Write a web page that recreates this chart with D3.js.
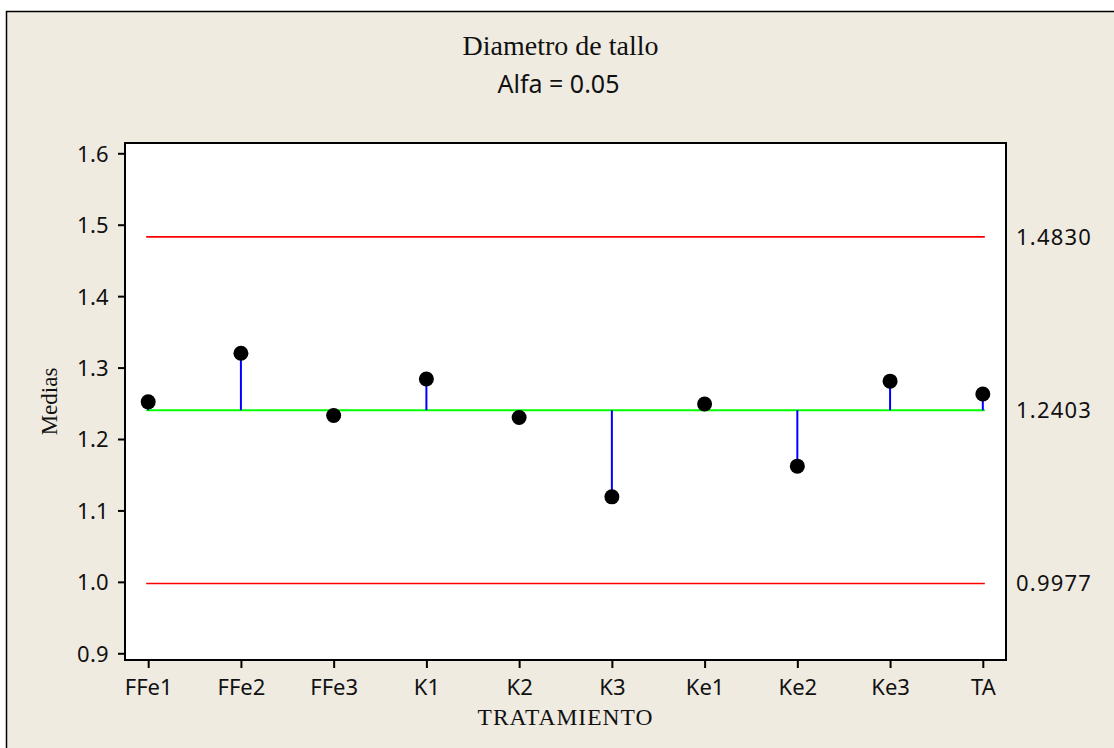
<!DOCTYPE html>
<html>
<head>
<meta charset="utf-8">
<script src="https://cdn.jsdelivr.net/npm/d3@7"></script>
<style>
  html, body { margin: 0; padding: 0; background: #ffffff; }
  svg { display: block; }
  .sans { font-family: "Noto Sans", "DejaVu Sans", sans-serif; }
  .serif { font-family: "Liberation Serif", "Times New Roman", serif; }
</style>
</head>
<body>
<svg id="chart" width="1114" height="748"></svg>
<script>
// Treatment means for stem diameter (ANOM, alpha = 0.05)
const categories = ["FFe1", "FFe2", "FFe3", "K1", "K2", "K3", "Ke1", "Ke2", "Ke3", "TA"];
const means = [1.252, 1.320, 1.233, 1.284, 1.230, 1.119, 1.249, 1.162, 1.281, 1.263];
const centerLine = 1.2403;
const upperLimit = 1.4830;
const lowerLimit = 0.9977;
const limitLabels = ["1.4830", "1.2403", "0.9977"];
const yTicks = [0.9, 1.0, 1.1, 1.2, 1.3, 1.4, 1.5, 1.6];
const yDomain = [0.8906, 1.6144];

const svg = d3.select("#chart");
const W = 1114, H = 748;
const plot = { left: 125, right: 1006, top: 143, bottom: 660 };

// page background and frame
svg.append("rect").attr("x", 0).attr("y", 0).attr("width", W).attr("height", H).attr("fill", "#ffffff");
svg.append("rect")
  .attr("x", 6.5).attr("y", 11.5).attr("width", 1200).attr("height", 800)
  .attr("fill", "#efebe1").attr("stroke", "#000").attr("stroke-width", 1.5);

const x = d3.scalePoint().domain(categories).range([plot.left, plot.right]).padding(0.25);
const y = d3.scaleLinear().domain(yDomain).range([plot.bottom, plot.top]);

// plot area
svg.append("rect")
  .attr("x", plot.left).attr("y", plot.top)
  .attr("width", plot.right - plot.left).attr("height", plot.bottom - plot.top)
  .attr("fill", "#ffffff");

// axes
const yAxis = svg.append("g")
  .attr("transform", `translate(${plot.left},0)`)
  .call(d3.axisLeft(y).tickValues(yTicks).tickFormat(d3.format(".1f")).tickSize(7).tickPadding(9));
yAxis.select(".domain").remove();
yAxis.selectAll(".tick line").attr("stroke", "#000").attr("stroke-width", 2);
yAxis.selectAll("text")
  .attr("class", "sans").attr("font-size", 22).attr("letter-spacing", 0.3)
  .attr("fill", "#111").attr("dy", "0.36em");

const xAxis = svg.append("g")
  .attr("transform", `translate(0,${plot.bottom})`)
  .call(d3.axisBottom(x).tickSize(8).tickPadding(11));
xAxis.select(".domain").remove();
xAxis.selectAll(".tick line").attr("stroke", "#000").attr("stroke-width", 2);
xAxis.selectAll("text")
  .attr("class", "sans").attr("font-size", 22)
  .attr("fill", "#111");

// frame of the plot area
svg.append("rect")
  .attr("x", plot.left).attr("y", plot.top)
  .attr("width", plot.right - plot.left).attr("height", plot.bottom - plot.top)
  .attr("fill", "none").attr("stroke", "#000").attr("stroke-width", 2);

const x0 = x(categories[0]) - 2;
const x1 = x(categories[categories.length - 1]) + 2;

// decision limits and center line
[upperLimit, lowerLimit].forEach(v => {
  svg.append("line")
    .attr("x1", x0).attr("x2", x1).attr("y1", y(v)).attr("y2", y(v))
    .attr("stroke", "#ff0000").attr("stroke-width", 1.6);
});
svg.append("line")
  .attr("x1", x0).attr("x2", x1).attr("y1", y(centerLine)).attr("y2", y(centerLine))
  .attr("stroke", "#00ff00").attr("stroke-width", 2);

// stems from the center line to each mean
svg.append("g").selectAll("line")
  .data(categories)
  .join("line")
  .attr("x1", d => x(d)).attr("x2", d => x(d))
  .attr("y1", y(centerLine))
  .attr("y2", (d, i) => y(means[i]))
  .attr("stroke", "#0000ff").attr("stroke-width", 2);

// means
svg.append("g").selectAll("circle")
  .data(categories)
  .join("circle")
  .attr("cx", d => x(d))
  .attr("cy", (d, i) => y(means[i]))
  .attr("r", 7.5)
  .attr("fill", "#000");

// limit labels on the right
[upperLimit, centerLine, lowerLimit].forEach((v, i) => {
  svg.append("text")
    .attr("class", "sans")
    .attr("x", plot.right + 10).attr("y", y(v)).attr("dy", "0.36em")
    .attr("font-size", 22).attr("letter-spacing", 1.2).attr("fill", "#111")
    .text(limitLabels[i]);
});

// titles
const cx = (plot.left + plot.right) / 2;
svg.append("text").attr("class", "serif")
  .attr("x", cx - 5).attr("y", 55).attr("text-anchor", "middle")
  .attr("font-size", 28).attr("fill", "#111")
  .text("Diametro de tallo");
svg.append("text").attr("class", "sans")
  .attr("x", cx - 7).attr("y", 93).attr("text-anchor", "middle")
  .attr("font-size", 25).attr("fill", "#111")
  .text("Alfa = 0.05");
svg.append("text").attr("class", "serif")
  .attr("x", cx).attr("y", 725).attr("text-anchor", "middle")
  .attr("font-size", 23.5).attr("letter-spacing", 1).attr("fill", "#111")
  .text("TRATAMIENTO");
svg.append("text").attr("class", "serif")
  .attr("transform", `translate(57,${(plot.top + plot.bottom) / 2}) rotate(-90)`)
  .attr("text-anchor", "middle")
  .attr("font-size", 23).attr("fill", "#111")
  .text("Medias");
</script>
</body>
</html>
